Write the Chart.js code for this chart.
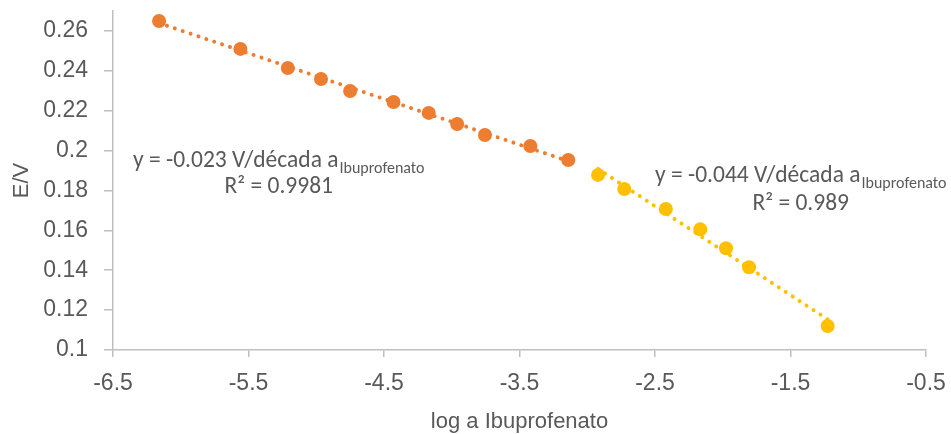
<!DOCTYPE html>
<html><head><meta charset="utf-8">
<script src="https://cdn.jsdelivr.net/npm/chart.js@4.4.0/dist/chart.umd.min.js"></script>
<style>html,body{margin:0;padding:0;background:#fff}#wrap{width:951px;height:434px;position:relative}</style>
</head><body><div id="wrap"><canvas id="c" width="951" height="434"></canvas></div>
<script>
// ---- data ----
const xLow  = [-6.16, -5.56, -5.21, -4.965, -4.75, -4.43, -4.17, -3.96, -3.755, -3.42, -3.14];
const yLow  = [0.265, 0.251, 0.2414, 0.2359, 0.2299, 0.2244, 0.2189, 0.2133, 0.2078, 0.2023, 0.1953];
const xHigh = [-2.92, -2.727, -2.42, -2.166, -1.976, -1.806, -1.226];
const yHigh = [0.1878, 0.1807, 0.1707, 0.1605, 0.1510, 0.1415, 0.112];
const xTicks = [-6.5, -5.5, -4.5, -3.5, -2.5, -1.5, -0.5];
const yTicks = [0.1, 0.12, 0.14, 0.16, 0.18, 0.2, 0.22, 0.24, 0.26];
const eqLow  = ['y = -0.023 V/década a', 'Ibuprofenato', 'R² = 0.9981'];
const eqHigh = ['y = -0.044 V/década a', 'Ibuprofenato', 'R² = 0.989'];
const xTitle = 'log a Ibuprofenato';
const yTitle = 'E/V';

const ORANGE = '#ED7D31', YELLOW = '#FFC000', TEXT = '#595959', AXIS = '#BFBFBF';
const TICKFONT = "'Liberation Sans', Arial, sans-serif";

function pts(xs, ys) { return xs.map((x, i) => ({x, y: ys[i]})); }
// least-squares trendline over the range of the data (as Excel draws it)
function trend(xs, ys) {
  const n = xs.length;
  const mx = xs.reduce((a, b) => a + b, 0) / n, my = ys.reduce((a, b) => a + b, 0) / n;
  let sxy = 0, sxx = 0;
  for (let i = 0; i < n; i++) { sxy += (xs[i] - mx) * (ys[i] - my); sxx += (xs[i] - mx) ** 2; }
  const b = sxy / sxx, a = my - b * mx;
  const x0 = Math.min(...xs), x1 = Math.max(...xs);
  return [{x: x0, y: a + b * x0}, {x: x1, y: a + b * x1}];
}

const eqPlugin = {
  id: 'eqText',
  afterDraw(chart, args, opts) {
    const ctx = chart.ctx;
    ctx.save();
    ctx.fillStyle = TEXT;
    ctx.textBaseline = 'alphabetic';
    ctx.textAlign = 'left';
    opts.items.forEach(it => {
      ctx.font = opts.size + 'px ' + opts.family;
      const w1 = ctx.measureText(it.eq[0]).width;
      ctx.fillText(it.eq[0], it.left, it.base);
      ctx.font = opts.subSize + 'px ' + opts.family;
      const w2 = ctx.measureText(it.eq[1]).width;
      ctx.fillText(it.eq[1], it.left + w1 + 1, it.base + opts.subDrop);
      ctx.font = opts.size + 'px ' + opts.family;
      const w3 = ctx.measureText(it.eq[2]).width;
      const cx = it.left + (w1 + 1 + w2) / 2;
      ctx.fillText(it.eq[2], cx - w3 / 2, it.base2);
    });
    ctx.restore();
  }
};

const dotted = {borderDash: [0.01, 8.3], borderCapStyle: 'round', borderWidth: 4, pointRadius: 0, showLine: true, fill: false};

new Chart(document.getElementById('c'), {
  type: 'scatter',
  data: {
    datasets: [
      Object.assign({label: 'tl1', data: trend(xLow, yLow), borderColor: ORANGE}, dotted),
      Object.assign({label: 'tl2', data: trend(xHigh, yHigh), borderColor: YELLOW}, dotted),
      {label: 'low', data: pts(xLow, yLow), backgroundColor: ORANGE, borderColor: ORANGE, pointRadius: 7, pointBorderWidth: 0},
      {label: 'high', data: pts(xHigh, yHigh), backgroundColor: YELLOW, borderColor: YELLOW, pointRadius: 7, pointBorderWidth: 0}
    ]
  },
  options: {
    responsive: false,
    animation: false,
    devicePixelRatio: 1,
    layout: {padding: {left: 0, top: 11, right: 25, bottom: 0}},
    plugins: {
      legend: {display: false},
      tooltip: {enabled: false},
      eqText: {
        family: "Carlito, Lato, sans-serif", size: 23.5, subSize: 16, subDrop: 6,
        items: [
          {eq: eqLow, left: 133, base: 167, base2: 193},
          {eq: eqHigh, left: 655, base: 182, base2: 210}
        ]
      }
    },
    scales: {
      x: {
        type: 'linear', min: -6.5, max: -0.5,
        afterBuildTicks: s => { s.ticks = xTicks.map(v => ({value: v})); },
        afterFit: s => { s.height = 84; s.paddingLeft = 0; s.paddingRight = 0; },
        ticks: {color: TEXT, font: {family: TICKFONT, size: 23}, padding: 13, callback: v => String(v), maxRotation: 0},
        grid: {drawOnChartArea: false, drawTicks: true, tickLength: 7, color: AXIS, lineWidth: 1.5},
        border: {display: true, color: AXIS, width: 1.5},
        title: {display: true, text: xTitle, color: TEXT, font: {family: TICKFONT, size: 22, lineHeight: 1.1}, padding: {top: 0, bottom: 0}}
      },
      y: {
        type: 'linear', min: 0.1, max: 0.27,
        afterBuildTicks: s => { s.ticks = yTicks.map(v => ({value: v})); },
        afterFit: s => { s.width = 113; s.paddingTop = 0; s.paddingBottom = 0; },
        ticks: {color: TEXT, font: {family: TICKFONT, size: 23}, padding: 16, callback: v => String(+v.toFixed(2))},
        grid: {drawOnChartArea: false, drawTicks: true, tickLength: 9, color: AXIS, lineWidth: 1.5},
        border: {display: true, color: AXIS, width: 1.5},
        title: {display: true, text: yTitle, color: TEXT, font: {family: TICKFONT, size: 22, lineHeight: 1.1}, padding: {top: 10, bottom: 0}}
      }
    }
  },
  plugins: [eqPlugin]
});
</script></body></html>
